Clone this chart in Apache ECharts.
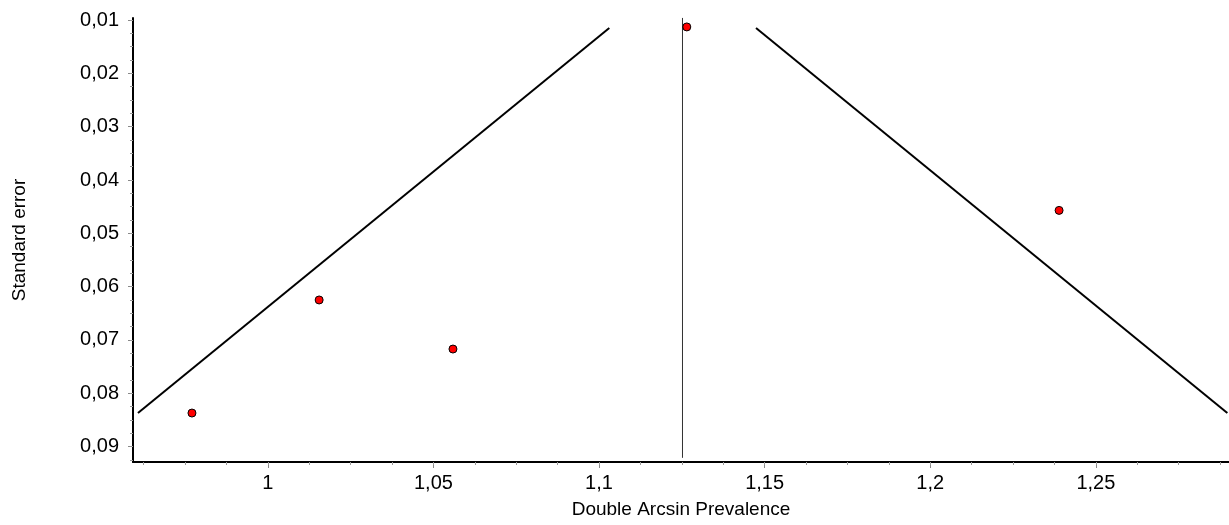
<!DOCTYPE html>
<html>
<head>
<meta charset="utf-8">
<script src="https://cdn.jsdelivr.net/npm/echarts@6/dist/echarts.min.js"></script>
<style>
  html, body { margin: 0; padding: 0; background: #fff; }
  #chart { width: 1229px; height: 525px; }
</style>
</head>
<body>
<div id="chart"></div>
<script>
// study points
const studyX = [0.9771, 1.0155, 1.0559, 1.1265, 1.2389]
const studySE = [0.0837, 0.0625, 0.0717, 0.0113, 0.0457]

// funnel limits and pooled estimate
const leftLimit = [[0.9608, 0.0837], [1.1031, 0.0115]]
const rightLimit = [[1.1474, 0.0115], [1.2897, 0.0837]]
const pooledLine = [[1.1252, 0.0096], [1.1252, 0.0921]]

// axis ticks
const xLabels = [1, 1.05, 1.1, 1.15, 1.2, 1.25]
const yLabels = [0.01, 0.02, 0.03, 0.04, 0.05, 0.06, 0.07, 0.08, 0.09]
const xRange = [0.9593, 1.2902]
const yRange = [0.009625, 0.09288]

const xMinor = []
for (let i = 0; i <= 26; i++) xMinor.push(+(0.9625 + i * 0.0125).toFixed(4))
const yMinor = []
for (let i = 0; i <= 33; i++) yMinor.push(+(0.01 + i * 0.0025).toFixed(4))

const comma = v => String(+v.toFixed(4)).replace('.', ',')
const font = 'Liberation Sans, Arial, sans-serif'

const chart = echarts.init(document.getElementById('chart'))

chart.setOption({
  animation: false,
  grid: { left: 133, right: 0, top: 18, bottom: 63 },
  xAxis: [
    {
      type: 'value',
      position: 'bottom',
      min: xRange[0],
      max: xRange[1],
      name: 'Double Arcsin Prevalence',
      nameLocation: 'middle',
      nameGap: 38,
      nameTextStyle: { color: '#000', fontSize: 19, fontFamily: font },
      splitLine: { show: false },
      axisLine: { onZero: false, lineStyle: { color: '#000', width: 2 } },
      axisTick: { customValues: xLabels, length: 6, lineStyle: { color: '#888' } },
      axisLabel: {
        customValues: xLabels,
        formatter: comma,
        margin: 11,
        color: '#000',
        fontSize: 20,
        fontFamily: font
      }
    },
    {
      type: 'value',
      position: 'bottom',
      min: xRange[0],
      max: xRange[1],
      splitLine: { show: false },
      axisLine: { show: false, onZero: false },
      axisTick: { customValues: xMinor, length: 3, lineStyle: { color: '#999' } },
      axisLabel: { show: false }
    }
  ],
  yAxis: [
    {
      type: 'value',
      position: 'left',
      inverse: true,
      min: yRange[0],
      max: yRange[1],
      name: 'Standard error',
      nameLocation: 'middle',
      nameGap: 104,
      nameRotate: 90,
      nameTextStyle: { color: '#000', fontSize: 19, fontFamily: font },
      splitLine: { show: false },
      axisLine: { onZero: false, lineStyle: { color: '#000', width: 2 } },
      axisTick: { customValues: yLabels, length: 5, lineStyle: { color: '#888' } },
      axisLabel: {
        customValues: yLabels,
        formatter: comma,
        margin: 14,
        color: '#000',
        fontSize: 20,
        fontFamily: font
      }
    },
    {
      type: 'value',
      position: 'left',
      inverse: true,
      min: yRange[0],
      max: yRange[1],
      splitLine: { show: false },
      axisLine: { show: false, onZero: false },
      axisTick: { customValues: yMinor, length: 3, lineStyle: { color: '#999' } },
      axisLabel: { show: false }
    }
  ],
  series: [
    {
      type: 'line',
      data: leftLimit,
      symbol: 'none',
      lineStyle: { color: '#000', width: 2 },
      z: 2
    },
    {
      type: 'line',
      data: rightLimit,
      symbol: 'none',
      lineStyle: { color: '#000', width: 2 },
      z: 2
    },
    {
      type: 'line',
      data: pooledLine,
      symbol: 'none',
      lineStyle: { color: '#333', width: 1 },
      z: 2
    },
    {
      type: 'scatter',
      data: studyX.map((x, i) => [x, studySE[i]]),
      symbol: 'circle',
      symbolSize: 8,
      itemStyle: { color: '#ff0000', borderColor: '#000', borderWidth: 1, opacity: 1 },
      z: 3
    }
  ]
})
</script>
</body>
</html>
